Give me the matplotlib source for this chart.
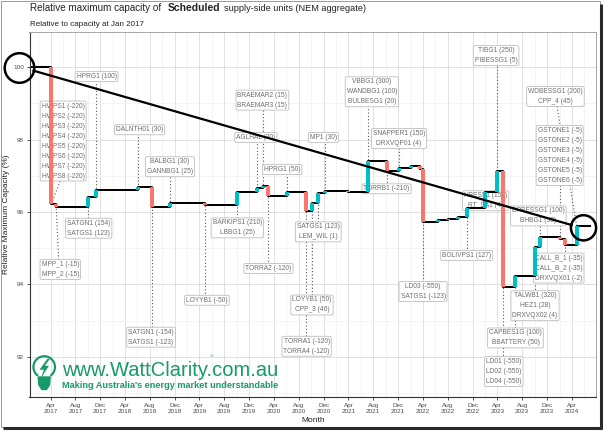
import matplotlib
matplotlib.use("Agg")
import matplotlib.pyplot as plt
import matplotlib.dates as mdates
import pandas as pd
from matplotlib.patches import Circle, Polygon, Rectangle, Arc

plt.rcParams['font.family'] = ['Liberation Sans', 'DejaVu Sans']

# ---------------- data ----------------
event_dates = ["2017-01-01", "2017-04-05", "2017-04-29", "2017-10-03", "2017-11-08",
               "2018-06-05", "2018-08-10", "2018-11-08", "2019-04-28", "2019-10-03",
               "2020-01-07", "2020-02-05", "2020-03-03", "2020-06-04", "2020-09-04",
               "2020-10-05", "2020-11-02", "2020-12-06", "2021-03-29", "2021-07-04",
               "2021-10-05", "2021-12-06", "2022-02-01", "2022-03-17", "2022-04-02",
               "2022-06-13", "2022-08-01", "2022-09-19", "2022-11-01", "2023-01-29",
               "2023-04-01", "2023-04-30", "2023-06-28", "2023-10-02", "2023-10-28",
               "2024-02-04", "2024-02-28", "2024-04-24", "2024-06-28"]
capacity_pct = [100.00, 96.22, 96.15, 96.40, 96.61,
                96.70, 96.14, 96.24, 96.18, 96.56,
                96.66, 96.73, 96.45, 96.56, 96.04,
                96.24, 96.52, 96.58, 96.54, 97.42,
                97.14, 97.21, 97.26, 97.18, 95.73,
                95.77, 95.81, 95.85, 96.12, 96.54,
                97.13, 93.92, 94.24, 95.04, 95.30,
                95.24, 95.09, 95.62, 95.62]

label_texts = [
    "HPRG1 (100)",
    "HWPS1 (-220)\nHWPS2 (-220)\nHWPS3 (-220)\nHWPS4 (-220)\nHWPS5 (-220)\nHWPS6 (-220)\nHWPS7 (-220)\nHWPS8 (-220)",
    "MPP_1 (-15)\nMPP_2 (-15)",
    "SATGN1 (154)\nSATGS1 (123)",
    "DALNTH01 (30)",
    "BALBG1 (30)\nGANNBG1 (25)",
    "SATGN1 (-154)\nSATGS1 (-123)",
    "LOYYB1 (-50)",
    "BARKIPS1 (210)\nLBBG1 (25)",
    "BRAEMAR2 (15)\nBRAEMAR3 (15)",
    "AGLHAL (30)",
    "TORRA2 (-120)",
    "HPRG1 (50)",
    "LOYYB1 (50)\nCPP_3 (46)",
    "TORRA1 (-120)\nTORRA4 (-120)",
    "SATGS1 (123)\nLEM_WIL (1)",
    "MP1 (30)",
    "VBBG1 (300)\nWANDBG1 (100)\nBULBESG1 (20)",
    "TORRB1 (-210)",
    "SNAPPER1 (150)\nDRXVQP01 (4)",
    "LD03 (-550)\nSATGS1 (-123)",
    "BOLIVPS1 (127)",
    "HBESS1 (150)\nRT_SA1 (4)",
    "TIBG1 (250)\nPIBESSG1 (5)",
    "LD01 (-550)\nLD02 (-550)\nLD04 (-550)",
    "CAPBES1G (100)\nBBATTERY (50)",
    "TALWB1 (320)\nHEZ1 (28)\nDRXVQX02 (4)",
    "DPBESSG1 (100)\nBHBG1 (50)",
    "CALL_B_1 (-35)\nCALL_B_2 (-35)\nDRXVQX01 (-2)",
    "GSTONE1 (-5)\nGSTONE2 (-5)\nGSTONE3 (-5)\nGSTONE4 (-5)\nGSTONE5 (-5)\nGSTONE6 (-5)",
    "WDBESSG1 (200)\nCPP_4 (45)",
]
label_event_dates = ["2017-11-08", "2017-04-05", "2017-04-29", "2017-10-03", "2018-06-05",
                     "2018-11-08", "2018-08-10", "2019-04-28", "2019-10-03", "2020-02-05",
                     "2020-01-07", "2020-03-03", "2020-06-04", "2020-10-05", "2020-09-04",
                     "2020-11-02", "2020-12-06", "2021-07-04", "2021-10-05", "2021-12-06",
                     "2022-04-02", "2022-11-01", "2023-01-29", "2023-04-01", "2023-04-30",
                     "2023-06-28", "2023-10-02", "2023-10-28", "2024-02-28", "2024-02-04",
                     "2024-04-24"]

# ---------------- layout (label placement) ----------------
label_x = ["2017-11-13", "2017-06-02", "2017-05-19", "2017-10-05", "2018-06-12",
           "2018-11-08", "2018-08-07", "2019-05-08", "2019-10-04", "2020-02-04",
           "2020-01-03", "2020-03-05", "2020-05-11", "2020-10-04", "2020-09-08",
           "2020-11-04", "2020-11-29", "2021-07-25", "2021-10-05", "2021-12-05",
           "2022-04-02", "2022-11-02", "2023-02-03", "2023-03-26", "2023-05-03",
           "2023-06-29", "2023-10-03", "2023-10-19", "2024-01-27", "2024-02-01",
           "2024-01-11"]
label_y = [99.74, 97.96, 94.41, 95.55, 98.27,
           97.25, 92.54, 93.56, 95.56, 99.09,
           98.06, 94.44, 97.17, 93.43, 92.29,
           95.45, 98.06, 99.32, 96.64, 98.03,
           93.80, 94.80, 96.31, 100.32, 91.59,
           92.52, 93.41, 95.89, 94.45, 97.56,
           99.19]
# diagonal leaders: start points (others: vertical from label at event date)
leader_start = {1: ("2017-05-24", 96.94), 2: ("2017-05-11", 94.68),
                30: ("2024-01-11", 99.19)}

RED = "#F8766D"
CYAN = "#00BFC4"
GREEN = "#179a69"

W, H = 604, 433
fig = plt.figure(figsize=(W / 100, H / 100), dpi=100)
fig.patch.set_facecolor("white")

L, R, T, B = 29.5, 596, 31.7, 397.3
ax = fig.add_axes([L / W, 1 - B / H, (R - L) / W, (B - T) / H])

s = pd.Series(capacity_pct, index=pd.to_datetime(event_dates))

# grid
ax.set_axisbelow(True)
ax.grid(which="major", color="#dcdcdc", lw=0.6)
ax.grid(which="minor", color="#eeeeee", lw=0.45)

# step line
ax.step(s.index, s.values, where="post", color="black", lw=1.45, zorder=4)
prev = s.values[:-1]
for d, v0, v1 in zip(s.index[1:], prev, s.values[1:]):
    if v1 == v0:
        continue
    ax.plot([d, d], [v0, v1], color=RED if v1 < v0 else CYAN, lw=2.9,
            solid_capstyle="butt", zorder=5)

# labels with leaders
for i, txt in enumerate(label_texts):
    ed = pd.Timestamp(label_event_dates[i])
    ev = s.asof(ed)
    lx = pd.Timestamp(label_x[i])
    ly = label_y[i]
    if i in leader_start:
        sx, sy = pd.Timestamp(leader_start[i][0]), leader_start[i][1]
    else:
        sx, sy = ed, ly
    ax.plot([sx, ed], [sy, ev], ls=(0, (1, 2)), color="#555555", lw=0.8, zorder=2.5)
    ax.text(lx, ly, txt, ha="center", va="center", fontsize=4.8, color="#6e6e6e",
            linespacing=1.6, zorder=3,
            bbox=dict(boxstyle="round,pad=0.22,rounding_size=0.25", fc="white",
                      ec="#bdbdbd", lw=0.6))

ax.set_xlim(pd.Timestamp("2016-12-19"), pd.Timestamp("2024-07-28"))
ax.set_ylim(90.88, 100.98)
ax.xaxis.set_major_locator(mdates.MonthLocator(bymonth=[4, 8, 12]))
ax.xaxis.set_major_formatter(mdates.DateFormatter("%b\n%Y"))
ax.xaxis.set_minor_locator(mdates.MonthLocator(bymonth=[2, 6, 10]))
ax.set_yticks([92, 94, 96, 98, 100])
ax.set_yticks([91, 93, 95, 97, 99], minor=True)
ax.tick_params(which="major", length=2.5, width=0.6, color="#333333",
               labelsize=4.6, labelcolor="#4d4d4d", pad=1.5)
ax.tick_params(which="minor", length=0)
for sp in ["left", "bottom"]:
    ax.spines[sp].set_color("#333333")
    ax.spines[sp].set_linewidth(0.8)
for sp in ["top", "right"]:
    ax.spines[sp].set_color("#999999")
    ax.spines[sp].set_linewidth(0.6)

fig.text(7 / W, 1 - 214 / H, "Relative Maximum Capacity (%)", rotation=90,
         ha="center", va="center", fontsize=6, color="#222222")
fig.text(313 / W, 1 - 421 / H, "Month", ha="center", va="center",
         fontsize=6, color="#222222")

# ---------------- overlay (titles, annotations, logo, frame) ----------------
ov = fig.add_axes([0, 0, 1, 1], zorder=10)
ov.set_xlim(0, W)
ov.set_ylim(H, 0)
ov.axis("off")
ov.patch.set_alpha(0)

renderer = fig.canvas.get_renderer()


def fit(t, width_px):
    w = t.get_window_extent(renderer).width
    t.set_fontsize(t.get_fontsize() * width_px / w)


t1 = ov.text(30, 10.8, "Relative maximum capacity of", fontsize=7, color="#222222",
             ha="left", va="baseline")
fit(t1, 131)
t2 = ov.text(167.5, 10.8, "Scheduled", fontsize=7, fontweight="bold", color="#222222",
             ha="left", va="baseline")
fit(t2, 53)
t3 = ov.text(224, 10.8, "supply-side units (NEM aggregate)", fontsize=7,
             color="#222222", ha="left", va="baseline")
fit(t3, 140)
t4 = ov.text(30, 25.8, "Relative to capacity at Jan 2017", fontsize=5.5,
             color="#222222", ha="left", va="baseline")
fit(t4, 114)

# highlight circles and connecting line
ov.add_patch(Circle((19.5, 68), 14.8, fill=False, ec="black", lw=1.8))
ov.add_patch(Circle((583.5, 227.8), 12.6, fill=False, ec="black", lw=1.8))
ov.plot([33.5, 571.5], [70.7, 225], color="black", lw=1.6)

# logo
ov.add_patch(Arc((44.2, 367), 21.5, 21.5, theta1=125, theta2=415, ec=GREEN, lw=1.6))
ov.add_patch(Polygon([(38.2, 377), (50.2, 377), (49.5, 385), (46.5, 389.5),
                      (41.9, 389.5), (38.9, 385)], closed=True, fc=GREEN, ec=GREEN))
ov.add_patch(Polygon([(47.5, 359), (40, 369.5), (44.3, 369.5), (41.5, 377),
                      (48.5, 366), (44.5, 366), (49.5, 359)], closed=True,
                     fc=GREEN, ec=GREEN, lw=0.3))
t5 = ov.text(61.7, 375.5, "www.WattClarity.com.au", fontsize=14, color=GREEN,
             ha="left", va="baseline")
fit(t5, 216.6)
ov.text(211, 356.5, "®", fontsize=3.2, color=GREEN, ha="center", va="center")
t6 = ov.text(62, 388.5, "Making Australia's energy market understandable",
             fontsize=7, fontweight="bold", color=GREEN, ha="left", va="baseline")
fit(t6, 216)

# frame with shadow
ov.add_patch(Rectangle((0.5, 0.5), 599, 426, fill=False, ec="#9a9a9a", lw=0.7))
ov.plot([600.8, 600.8], [4, 428.5], color="#2a2a2a", lw=2.2, solid_capstyle="butt")
ov.plot([3, 602], [427.8, 427.8], color="#2a2a2a", lw=2.2, solid_capstyle="butt")

fig.savefig("out.png", dpi=100, facecolor="white")
